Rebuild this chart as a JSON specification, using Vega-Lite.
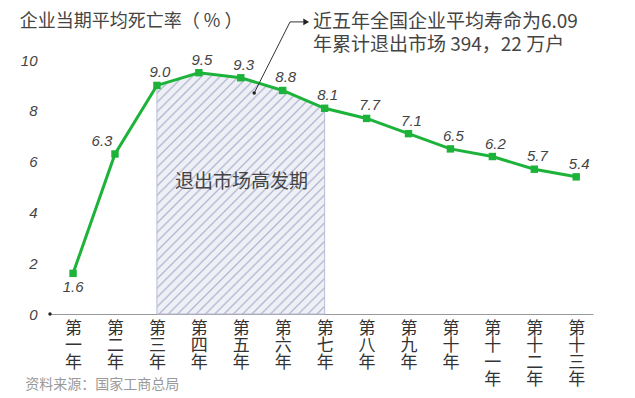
{
  "$schema": "https://vega.github.io/schema/vega-lite/v6.json",
  "width": 543,
  "height": 254,
  "autosize": {"type": "none"},
  "padding": {"left": 50, "top": 60, "right": 42, "bottom": 84},
  "background": "white",
  "config": {"view": {"stroke": null}, "font": "Noto Sans CJK SC"},
  "data": {"values": [
    {"n": 1, "year": "第一年", "rate": 1.6},
    {"n": 2, "year": "第二年", "rate": 6.3},
    {"n": 3, "year": "第三年", "rate": 9.0},
    {"n": 4, "year": "第四年", "rate": 9.5},
    {"n": 5, "year": "第五年", "rate": 9.3},
    {"n": 6, "year": "第六年", "rate": 8.8},
    {"n": 7, "year": "第七年", "rate": 8.1},
    {"n": 8, "year": "第八年", "rate": 7.7},
    {"n": 9, "year": "第九年", "rate": 7.1},
    {"n": 10, "year": "第十年", "rate": 6.5},
    {"n": 11, "year": "第十一年", "rate": 6.2},
    {"n": 12, "year": "第十二年", "rate": 5.7},
    {"n": 13, "year": "第十三年", "rate": 5.4}
  ]},
  "encoding": {
    "x": {"field": "n", "type": "quantitative", "scale": {"domain": [0.45, 13.4], "nice": false, "zero": false},
      "axis": {"title": null, "values": [1,2,3,4,5,6,7,8,9,10,11,12,13], "ticks": false, "grid": false, "domainColor": "#999", "domainWidth": 1.2,
        "labelExpr": "split(['第一年','第二年','第三年','第四年','第五年','第六年','第七年','第八年','第九年','第十年','第十一年','第十二年','第十三年'][datum.value-1], '')",
        "labelFontSize": 17, "labelLineHeight": 17, "labelColor": "#333", "labelPadding": 6, "labelBaseline": "top", "labelAlign": "center", "labelFont": "Noto Sans CJK SC", "labelFlush": false, "labelOverlap": false}},
    "y": {"field": "rate", "type": "quantitative", "scale": {"domain": [0, 10], "nice": false},
      "axis": {"title": null, "values": [0,2,4,6,8,10], "ticks": false, "grid": false, "domain": false, "labelFontSize": 15, "labelFontStyle": "italic", "labelColor": "#444", "labelPadding": 13, "labelFont": "Liberation Sans"}}
  },
  "layer": [
    {
      "transform": [{"filter": "datum.n >= 3 && datum.n <= 7"}],
      "mark": {"type": "area", "stroke": "#b8bcd6", "strokeWidth": 1,
        "fill": {"gradient": "linear", "x1": 0, "y1": 0, "x2": 0.82, "y2": 1.18, "stops": [
{"offset":0,"color":"#eff0f5"},{"offset":0.0045,"color":"#b3b7d3"},{"offset":0.009,"color":"#eff0f5"},
{"offset":0.022,"color":"#eff0f5"},{"offset":0.0265,"color":"#b3b7d3"},{"offset":0.031,"color":"#eff0f5"},
{"offset":0.044,"color":"#eff0f5"},{"offset":0.0485,"color":"#b3b7d3"},{"offset":0.053,"color":"#eff0f5"},
{"offset":0.066,"color":"#eff0f5"},{"offset":0.0705,"color":"#b3b7d3"},{"offset":0.075,"color":"#eff0f5"},
{"offset":0.088,"color":"#eff0f5"},{"offset":0.0925,"color":"#b3b7d3"},{"offset":0.097,"color":"#eff0f5"},
{"offset":0.110,"color":"#eff0f5"},{"offset":0.1145,"color":"#b3b7d3"},{"offset":0.119,"color":"#eff0f5"},
{"offset":0.132,"color":"#eff0f5"},{"offset":0.1365,"color":"#b3b7d3"},{"offset":0.141,"color":"#eff0f5"},
{"offset":0.154,"color":"#eff0f5"},{"offset":0.1585,"color":"#b3b7d3"},{"offset":0.163,"color":"#eff0f5"},
{"offset":0.176,"color":"#eff0f5"},{"offset":0.1805,"color":"#b3b7d3"},{"offset":0.185,"color":"#eff0f5"},
{"offset":0.198,"color":"#eff0f5"},{"offset":0.2025,"color":"#b3b7d3"},{"offset":0.207,"color":"#eff0f5"},
{"offset":0.220,"color":"#eff0f5"},{"offset":0.2245,"color":"#b3b7d3"},{"offset":0.229,"color":"#eff0f5"},
{"offset":0.242,"color":"#eff0f5"},{"offset":0.2465,"color":"#b3b7d3"},{"offset":0.251,"color":"#eff0f5"},
{"offset":0.264,"color":"#eff0f5"},{"offset":0.2685,"color":"#b3b7d3"},{"offset":0.273,"color":"#eff0f5"},
{"offset":0.286,"color":"#eff0f5"},{"offset":0.2905,"color":"#b3b7d3"},{"offset":0.295,"color":"#eff0f5"},
{"offset":0.308,"color":"#eff0f5"},{"offset":0.3125,"color":"#b3b7d3"},{"offset":0.317,"color":"#eff0f5"},
{"offset":0.330,"color":"#eff0f5"},{"offset":0.3345,"color":"#b3b7d3"},{"offset":0.339,"color":"#eff0f5"},
{"offset":0.352,"color":"#eff0f5"},{"offset":0.3565,"color":"#b3b7d3"},{"offset":0.361,"color":"#eff0f5"},
{"offset":0.374,"color":"#eff0f5"},{"offset":0.3785,"color":"#b3b7d3"},{"offset":0.383,"color":"#eff0f5"},
{"offset":0.396,"color":"#eff0f5"},{"offset":0.4005,"color":"#b3b7d3"},{"offset":0.405,"color":"#eff0f5"},
{"offset":0.418,"color":"#eff0f5"},{"offset":0.4225,"color":"#b3b7d3"},{"offset":0.427,"color":"#eff0f5"},
{"offset":0.440,"color":"#eff0f5"},{"offset":0.4445,"color":"#b3b7d3"},{"offset":0.449,"color":"#eff0f5"},
{"offset":0.462,"color":"#eff0f5"},{"offset":0.4665,"color":"#b3b7d3"},{"offset":0.471,"color":"#eff0f5"},
{"offset":0.484,"color":"#eff0f5"},{"offset":0.4885,"color":"#b3b7d3"},{"offset":0.493,"color":"#eff0f5"},
{"offset":0.506,"color":"#eff0f5"},{"offset":0.5105,"color":"#b3b7d3"},{"offset":0.515,"color":"#eff0f5"},
{"offset":0.528,"color":"#eff0f5"},{"offset":0.5325,"color":"#b3b7d3"},{"offset":0.537,"color":"#eff0f5"},
{"offset":0.550,"color":"#eff0f5"},{"offset":0.5545,"color":"#b3b7d3"},{"offset":0.559,"color":"#eff0f5"},
{"offset":0.572,"color":"#eff0f5"},{"offset":0.5765,"color":"#b3b7d3"},{"offset":0.581,"color":"#eff0f5"},
{"offset":0.594,"color":"#eff0f5"},{"offset":0.5985,"color":"#b3b7d3"},{"offset":0.603,"color":"#eff0f5"},
{"offset":0.616,"color":"#eff0f5"},{"offset":0.6205,"color":"#b3b7d3"},{"offset":0.625,"color":"#eff0f5"},
{"offset":0.638,"color":"#eff0f5"},{"offset":0.6425,"color":"#b3b7d3"},{"offset":0.647,"color":"#eff0f5"},
{"offset":0.660,"color":"#eff0f5"},{"offset":0.6645,"color":"#b3b7d3"},{"offset":0.669,"color":"#eff0f5"},
{"offset":0.682,"color":"#eff0f5"},{"offset":0.6865,"color":"#b3b7d3"},{"offset":0.691,"color":"#eff0f5"},
{"offset":0.704,"color":"#eff0f5"},{"offset":0.7085,"color":"#b3b7d3"},{"offset":0.713,"color":"#eff0f5"},
{"offset":0.726,"color":"#eff0f5"},{"offset":0.7305,"color":"#b3b7d3"},{"offset":0.735,"color":"#eff0f5"},
{"offset":0.748,"color":"#eff0f5"},{"offset":0.7525,"color":"#b3b7d3"},{"offset":0.757,"color":"#eff0f5"},
{"offset":0.770,"color":"#eff0f5"},{"offset":0.7745,"color":"#b3b7d3"},{"offset":0.779,"color":"#eff0f5"},
{"offset":0.792,"color":"#eff0f5"},{"offset":0.7965,"color":"#b3b7d3"},{"offset":0.801,"color":"#eff0f5"},
{"offset":0.814,"color":"#eff0f5"},{"offset":0.8185,"color":"#b3b7d3"},{"offset":0.823,"color":"#eff0f5"},
{"offset":0.836,"color":"#eff0f5"},{"offset":0.8405,"color":"#b3b7d3"},{"offset":0.845,"color":"#eff0f5"},
{"offset":0.858,"color":"#eff0f5"},{"offset":0.8625,"color":"#b3b7d3"},{"offset":0.867,"color":"#eff0f5"},
{"offset":0.880,"color":"#eff0f5"},{"offset":0.8845,"color":"#b3b7d3"},{"offset":0.889,"color":"#eff0f5"},
{"offset":0.902,"color":"#eff0f5"},{"offset":0.9065,"color":"#b3b7d3"},{"offset":0.911,"color":"#eff0f5"},
{"offset":0.924,"color":"#eff0f5"},{"offset":0.9285,"color":"#b3b7d3"},{"offset":0.933,"color":"#eff0f5"},
{"offset":0.946,"color":"#eff0f5"},{"offset":0.9505,"color":"#b3b7d3"},{"offset":0.955,"color":"#eff0f5"},
{"offset":0.968,"color":"#eff0f5"},{"offset":0.9725,"color":"#b3b7d3"},{"offset":0.977,"color":"#eff0f5"},
{"offset":0.990,"color":"#eff0f5"},{"offset":0.9945,"color":"#b3b7d3"},{"offset":0.999,"color":"#eff0f5"},
{"offset":1,"color":"#eff0f5"}
        ]}}
    },
    {"mark": {"type": "line", "color": "#1db33a", "strokeWidth": 3}},
    {"mark": {"type": "point", "shape": "square", "filled": true, "color": "#1db33a", "size": 55, "opacity": 1}},
    {
      "transform": [{"filter": "datum.n >= 3"}],
      "mark": {"type": "text", "dx": 3, "dy": -13, "fontSize": 15, "fontStyle": "italic", "color": "#444", "font": "Liberation Sans"},
      "encoding": {"text": {"field": "rate", "type": "quantitative", "format": ".1f"}}
    },
    {
      "transform": [{"filter": "datum.n == 2"}],
      "mark": {"type": "text", "dx": -13, "dy": -13, "fontSize": 15, "fontStyle": "italic", "color": "#444", "font": "Liberation Sans"},
      "encoding": {"text": {"field": "rate", "type": "quantitative", "format": ".1f"}}
    },
    {
      "transform": [{"filter": "datum.n == 1"}],
      "mark": {"type": "text", "dx": 0, "dy": 14, "fontSize": 15, "fontStyle": "italic", "color": "#444", "font": "Liberation Sans"},
      "encoding": {"text": {"field": "rate", "type": "quantitative", "format": ".1f"}}
    },
    {
      "transform": [{"filter": "datum.n == 1"}],
      "mark": {"type": "text", "fontSize": 19, "color": "#444", "font": "Noto Sans CJK SC", "text": "退出市场高发期"},
      "encoding": {"x": {"datum": 5.02}, "y": {"datum": 5.2}}
    },
    {
      "data": {"values": [{"px": 5.32, "py": 8.7}, {"px": 6.175, "py": 11.5}, {"px": 6.5, "py": 11.5}]},
      "mark": {"type": "line", "color": "#333", "strokeWidth": 1},
      "encoding": {"x": {"field": "px", "type": "quantitative"}, "y": {"field": "py", "type": "quantitative"}}
    },
    {
      "data": {"values": [{"px": 5.32, "py": 8.7}, {"px": 0.45, "py": 0}]},
      "mark": {"type": "point", "filled": true, "color": "#222", "size": 12, "opacity": 1},
      "encoding": {"x": {"field": "px", "type": "quantitative"}, "y": {"field": "py", "type": "quantitative"}}
    },
    {
      "data": {"values": [{"px": 6.56, "py": 11.5}]},
      "mark": {"type": "point", "shape": "triangle-right", "filled": true, "color": "#222", "size": 45, "opacity": 1},
      "encoding": {"x": {"field": "px", "type": "quantitative"}, "y": {"field": "py", "type": "quantitative"}}
    },
    {
      "transform": [{"filter": "datum.n == 1"}],
      "mark": {"type": "text", "align": "left", "baseline": "top", "fontSize": 19, "lineHeight": 23, "color": "#444", "font": "Noto Sans CJK SC",
        "text": ["近五年全国企业平均寿命为6.09", "年累计退出市场 394，22 万户"]},
      "encoding": {"x": {"datum": 6.72}, "y": {"datum": 11.85}}
    },
    {
      "transform": [{"filter": "datum.n == 1"}],
      "mark": {"type": "text", "align": "left", "baseline": "middle", "fontSize": 18, "color": "#444", "font": "Noto Sans CJK SC", "text": "企业当期平均死亡率（ % ）"},
      "encoding": {"x": {"datum": -0.27}, "y": {"datum": 11.5}}
    },
    {
      "transform": [{"filter": "datum.n == 1"}],
      "mark": {"type": "text", "align": "left", "baseline": "middle", "fontSize": 14, "color": "#999", "font": "Noto Sans CJK SC", "text": "资料来源：国家工商总局"},
      "encoding": {"x": {"datum": -0.14}, "y": {"datum": -2.8}}
    }
  ]
}
